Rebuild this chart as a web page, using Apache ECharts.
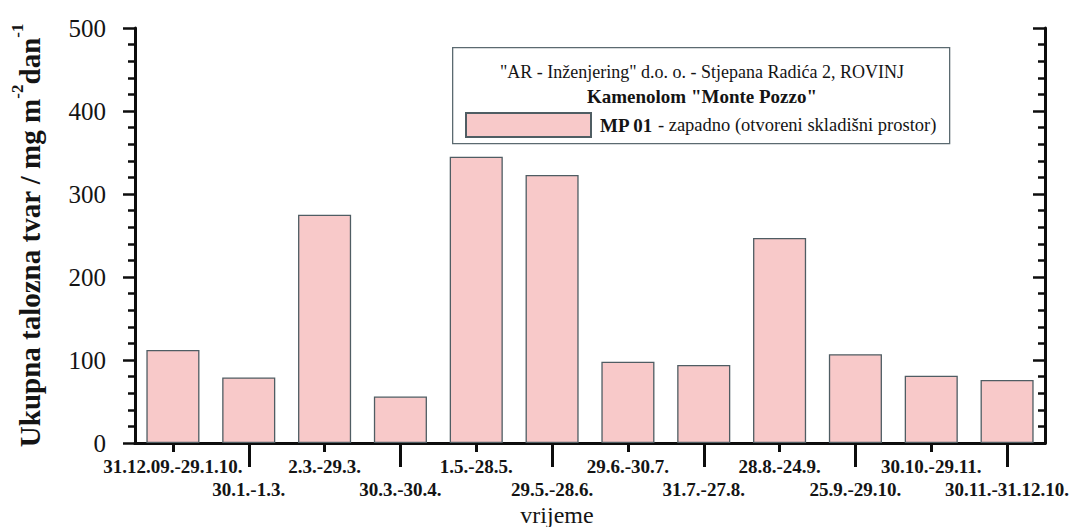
<!DOCTYPE html>
<html>
<head>
<meta charset="utf-8">
<title>Ukupna talozna tvar - MP 01</title>
<script src="https://cdn.jsdelivr.net/npm/echarts@6/dist/echarts.min.js"></script>
<style>
  html, body { margin: 0; padding: 0; background: #ffffff; }
  #chart { width: 1070px; height: 527px; }
</style>
</head>
<body>
<div id="chart"></div>
<script>
// Sampling periods (2010) and total deposited matter, mg m-2 dan-1
const periods = [
  '31.12.09.-29.1.10.', '30.1.-1.3.', '2.3.-29.3.', '30.3.-30.4.',
  '1.5.-28.5.', '29.5.-28.6.', '29.6.-30.7.', '31.7.-27.8.',
  '28.8.-24.9.', '25.9.-29.10.', '30.10.-29.11.', '30.11.-31.12.10.'
];
const depositMP01 = [112, 79, 275, 56, 345, 323, 98, 94, 247, 107, 81, 76];
const yTicks = [0, 100, 200, 300, 400, 500];

const seriesName = 'MP 01';
const headerLine1 = '"AR - Inženjering" d.o. o. - Stjepana Radića 2, ROVINJ';
const headerLine2 = 'Kamenolom "Monte Pozzo"';

const SERIF = 'Liberation Serif, Times New Roman, DejaVu Serif, serif';
const INK = '#141414';
const FRAME = '#0d0d0d';

const chart = echarts.init(document.getElementById('chart'), null, { renderer: 'svg' });

const yMin = yTicks[0];
const yMax = yTicks[yTicks.length - 1];
const yStep = yTicks[1] - yTicks[0];

chart.setOption({
  backgroundColor: '#ffffff',
  animation: false,
  textStyle: { fontFamily: SERIF, color: INK },
  grid: { left: 135, right: 25, top: 28, bottom: 84, containLabel: false, outerBoundsMode: 'none' },
  title: {
    text: headerLine1 + '\n{b|' + headerLine2 + '}',
    left: 697, top: 54, textAlign: 'center',
    textStyle: {
      fontFamily: SERIF, fontSize: 18, fontWeight: 'normal', color: INK, lineHeight: 25,
      rich: { b: { fontFamily: SERIF, fontSize: 19, fontWeight: 'bold', color: INK, lineHeight: 25 } }
    }
  },
  legend: {
    data: [seriesName],
    left: 460, top: 107,
    itemWidth: 125, itemHeight: 24, itemGap: 0,
    icon: 'rect',
    formatter: name => '{b|' + name + '} - zapadno (otvoreni skladišni prostor)',
    textStyle: {
      fontFamily: SERIF, fontSize: 18.5, color: INK, padding: [0, 0, 0, 4],
      rich: { b: { fontFamily: SERIF, fontSize: 19, fontWeight: 'bold', color: INK } }
    }
  },
  graphic: [{
    type: 'rect', left: 452, top: 47, z: 1, silent: true,
    shape: { width: 497, height: 96 },
    style: { fill: '#ffffff', stroke: '#5b6a70', lineWidth: 1.3 }
  }],
  xAxis: [{
    type: 'category', data: periods, position: 'bottom',
    boundaryGap: true,
    axisLine: { lineStyle: { color: FRAME, width: 3 } },
    axisTick: {
      show: true, alignWithLabel: true, inside: false, length: 24,
      interval: i => i % 2 === 1,
      lineStyle: { color: FRAME, width: 3 }
    },
    axisLabel: {
      interval: 0, margin: 12, fontFamily: SERIF, fontSize: 19, fontWeight: 'bold',
      color: INK, lineHeight: 23,
      formatter: (v, i) => (i % 2 === 1 ? '\n' : '') + v
    },
    name: 'vrijeme', nameLocation: 'middle', nameGap: 60, nameMoveOverlap: false,
    nameTextStyle: { fontFamily: SERIF, fontSize: 24, color: INK, padding: [0, 66, 0, 0] }
  }, {
    type: 'category', data: periods, position: 'top',
    boundaryGap: true,
    axisLine: { lineStyle: { color: FRAME, width: 3 } },
    axisTick: { show: true, alignWithLabel: true, inside: true, length: 9, interval: 0,
      lineStyle: { color: FRAME, width: 3 } },
    axisLabel: { show: false }
  }],
  yAxis: [{
    type: 'value', min: yMin, max: yMax, interval: yStep, position: 'left',
    axisLine: { show: true, lineStyle: { color: FRAME, width: 3 } },
    axisTick: { show: true, inside: false, length: 12, lineStyle: { color: FRAME, width: 2.5 } },
    minorTick: { show: true, splitNumber: 5, length: 7, lineStyle: { color: FRAME, width: 2.5 } },
    splitLine: { show: false },
    axisLabel: { margin: 29, fontFamily: SERIF, fontSize: 25, color: INK },
    name: '{m|Ukupna talozna tvar / mg m}{s|-2}{m|dan}{s|-1}',
    nameLocation: 'middle', nameRotate: 90, nameGap: 91, nameMoveOverlap: false,
    nameTextStyle: {
      rich: {
        m: { fontFamily: SERIF, fontSize: 29, fontWeight: 'bold', color: INK, lineHeight: 35, verticalAlign: 'bottom' },
        s: { fontFamily: SERIF, fontSize: 17, fontWeight: 'bold', color: INK, lineHeight: 17, verticalAlign: 'top' }
      }
    }
  }, {
    type: 'value', min: yMin, max: yMax, interval: yStep, position: 'right',
    axisLine: { show: true, lineStyle: { color: FRAME, width: 3 } },
    axisTick: { show: true, inside: true, length: 12, lineStyle: { color: FRAME, width: 2.5 } },
    minorTick: { show: true, splitNumber: 5, length: 7, lineStyle: { color: FRAME, width: 2.5 } },
    splitLine: { show: false },
    axisLabel: { show: false }
  }],
  series: [{
    name: seriesName, type: 'bar', xAxisIndex: 0, yAxisIndex: 0,
    data: depositMP01, barWidth: '70%', z: 2,
    itemStyle: { color: '#f8c9c9', borderColor: '#4f5d63', borderWidth: 1.3 }
  }]
});
</script>
</body>
</html>
